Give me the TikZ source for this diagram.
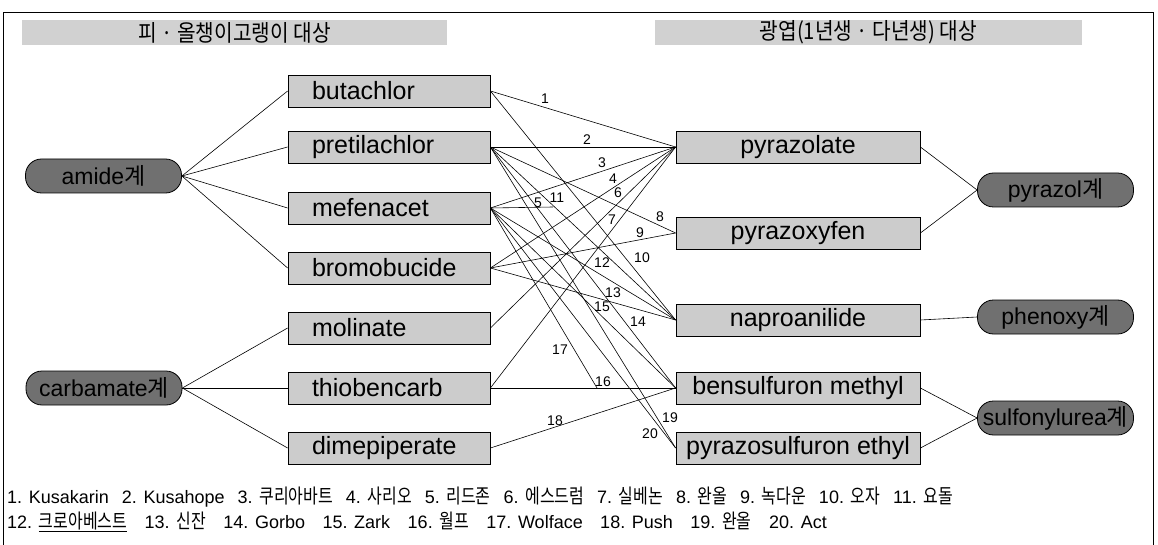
\documentclass[tikz,border=0pt]{standalone}
\usepackage{fontspec}
\setmainfont{Liberation Sans}
\newfontfamily\kr{Noto Sans CJK KR}
\newfontfamily\krc[FakeStretch=0.8]{Noto Sans CJK KR}
\newfontfamily\krh[FakeStretch=0.88]{Noto Sans CJK KR}
\usetikzlibrary{shadows}
\definecolor{boxgray}{gray}{0.80}
\definecolor{ovalgray}{gray}{0.44}
\definecolor{bandgray}{gray}{0.82}
\tikzset{
  lbox/.style={draw, line width=0.8pt, fill=boxgray, minimum height=32pt,
    text width=202pt, align=left, inner xsep=0pt, inner ysep=0pt,
    font=\fontsize{25}{26}\selectfont,
    drop shadow={shadow xshift=1.2pt, shadow yshift=-1.2pt, fill=black, opacity=1}},
  rbox/.style={draw, line width=0.8pt, fill=boxgray, minimum height=32pt,
    minimum width=244pt, inner sep=0pt, font=\fontsize{25}{26}\selectfont,
    drop shadow={shadow xshift=1.2pt, shadow yshift=-1.2pt, fill=black, opacity=1}},
  grp/.style={draw, line width=0.8pt, fill=ovalgray, rounded corners=16pt,
    minimum width=156pt, minimum height=34pt, inner sep=0pt,
    font=\fontsize{23}{24}\selectfont},
  band/.style={fill=bandgray, inner sep=0pt, minimum height=25pt,
    font=\krh\fontsize{23}{24}\selectfont},
  link/.style={line width=0.6pt},
  num/.style={font=\fontsize{14}{15}\selectfont, inner sep=0pt},
  foot/.style={anchor=base west, inner sep=0pt, font=\fontsize{18}{20}\selectfont}
}
\newcommand\fg{\hspace{13pt}}
\newcommand\fgw{\hspace{17.5pt}}
\newcommand\kk[1]{{\krc\fontsize{20}{20}\selectfont #1}}
\begin{document}
\begin{tikzpicture}[x=1pt,y=-1pt]
\useasboundingbox (0,0) rectangle (1158,545);
\clip (0,0) rectangle (1158,545);
\fill[white] (0,0) rectangle (1158,545);
% frame
\draw[line width=1pt] (3,560) -- (3,13) -- (1153,13) -- (1153,560);
% headers
\node[band, minimum width=425pt] (hl) at (234.5,32.5) {피 · 올챙이고랭이 대상};
\node[band, minimum width=427pt] (hr) at (868.5,32.5) {광엽(1년생 · 다년생) 대상};
% group ovals
\node[grp] (amide) at (103.5,176) {amide{\kr 계}};
\node[grp] (carb) at (104,388) {carbamate{\kr 계}};
\node[grp] (pyrazol) at (1055.5,190) {pyrazol{\kr 계}};
\node[grp] (phenoxy) at (1055.5,317) {phenoxy{\kr 계}};
\node[grp] (sulfo) at (1055.5,418) {sulfonylurea{\kr 계}};
% left boxes
\node[lbox] (buta) at (389,91) {\hspace*{24pt}butachlor};
\node[lbox] (pret) at (389,147) {\hspace*{24pt}pretilachlor};
\node[lbox] (mefe) at (389,208) {\hspace*{24pt}mefenacet};
\node[lbox] (brom) at (389,268) {\hspace*{24pt}bromobucide};
\node[lbox] (moli) at (389,328) {\hspace*{24pt}molinate};
\node[lbox] (thio) at (389,388) {\hspace*{24pt}thiobencarb};
\node[lbox] (dime) at (389,448) {\hspace*{24pt}dimepiperate};
% right boxes
\node[rbox] (pyla) at (798,147) {pyrazolate};
\node[rbox] (pyxy) at (798,233) {pyrazoxyfen};
\node[rbox] (napr) at (798,320) {naproanilide};
\node[rbox] (bens) at (798,388) {bensulfuron methyl};
\node[rbox] (pyso) at (798,448) {pyrazosulfuron ethyl};
% group links
\foreach \b in {buta,pret,mefe,brom} \draw[link] (amide.east) -- (\b.west);
\foreach \b in {moli,thio,dime} \draw[link] (carb.east) -- (\b.west);
\draw[link] (pyla.east) -- (pyrazol.west);
\draw[link] (pyxy.east) -- (pyrazol.west);
\draw[link] (napr.east) -- (phenoxy.west);
\draw[link] (bens.east) -- (sulfo.west);
\draw[link] (pyso.east) -- (sulfo.west);
% junction points
\coordinate (j5) at (553,207);
\coordinate (j17) at (597,388);
% mixture links
\draw[link] (buta.east) -- (pyla.west);
\draw[link] (pret.east) -- (pyla.west);
\draw[link] (mefe.east) -- (pyla.west);
\draw[link] (brom.east) -- (pyla.west);
\draw[link] (mefe.east) -- (j5);
\draw[link] (moli.east) -- (pyla.west);
\draw[link] (thio.east) -- (pyla.west);
\draw[link] (pret.east) -- (pyxy.west);
\draw[link] (brom.east) -- (pyxy.west);
\draw[link] (buta.east) -- (napr.west);
\draw[link] (pret.east) -- (napr.west);
\draw[link] (mefe.east) -- (napr.west);
\draw[link] (brom.east) -- (napr.west);
\draw[link] (pret.east) -- (bens.west);
\draw[link] (mefe.east) -- (bens.west);
\draw[link] (thio.east) -- (bens.west);
\draw[link] (mefe.east) -- (j17);
\draw[link] (dime.east) -- (bens.west);
\draw[link] (pret.east) -- (pyso.west);
\draw[link] (mefe.east) -- (pyso.west);
% numbers
\node[num] (n1) at (545,99) {1};
\node[num] (n2) at (587,140) {2};
\node[num] (n3) at (602,163) {3};
\node[num] (n4) at (613,179) {4};
\node[num] (n5) at (538,203) {5};
\node[num] (n6) at (618,193) {6};
\node[num] (n7) at (612,220) {7};
\node[num] (n8) at (660,217) {8};
\node[num] (n9) at (640,233) {9};
\node[num] (n10) at (642,258) {10};
\node[num] (n11) at (557,198) {11};
\node[num] (n12) at (602,263) {12};
\node[num] (n13) at (613,293) {13};
\node[num] (n14) at (638,322) {14};
\node[num] (n15) at (602,307) {15};
\node[num] (n16) at (603,382) {16};
\node[num] (n17) at (560,350) {17};
\node[num] (n18) at (555,421) {18};
\node[num] (n19) at (670,418) {19};
\node[num] (n20) at (650,434) {20};
% footer
\node[foot] (f1) at (7,503) {1. Kusakarin\fg 2. Kusahope\fg 3. \kk{쿠리아바트}\fg 4. \kk{사리오}\fg 5. \kk{리드존}\fg 6. \kk{에스드럼}\fg 7. \kk{실베논}\fg 8. \kk{완올}\fg 9. \kk{녹다운}\fg 10. \kk{오자}\fg 11. \kk{요돌}};
\node[foot] (f2) at (7,528) {12. \underline{\kk{크로아베스트}}\fgw 13. \kk{신잔}\fgw 14. Gorbo\fgw 15. Zark\fgw 16. \kk{월프}\fgw 17. Wolface\fgw 18. Push\fgw 19. \kk{완올}\fgw 20. Act};
\end{tikzpicture}
\end{document}
